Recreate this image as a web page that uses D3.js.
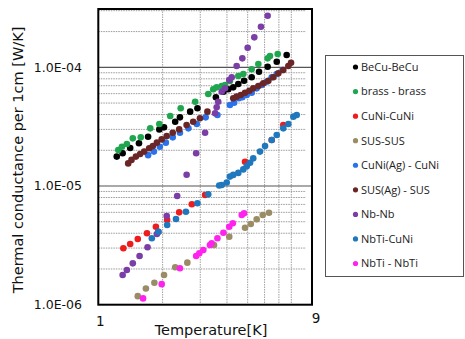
<!DOCTYPE html>
<html>
<head>
<meta charset="utf-8">
<script src="https://cdn.jsdelivr.net/npm/d3@7"></script>
<style>
  html, body { margin: 0; padding: 0; background: #fff; }
  svg { display: block; }
</style>
</head>
<body>
<svg id="chart" width="465" height="339"></svg>
<script>
// ---- data: [Temperature K, conductance W/K] ----
const seriesNames = ["BeCu-BeCu", "brass - brass", "CuNi-CuNi", "SUS-SUS", "CuNi(Ag) - CuNi", "SUS(Ag) - SUS", "Nb-Nb", "NbTi-CuNi", "NbTi - NbTi"];
const seriesColors = ["#000000", "#1fa64f", "#ee1c1c", "#9a8d66", "#2b72ea", "#6a2626", "#7a3ea6", "#1f78be", "#ff22ee"];

const becu = [[1.22,1.77e-5],[1.30,1.89e-5],[1.41,2.09e-5],[1.55,2.29e-5],[1.71,2.60e-5],[1.93,3.00e-5],[2.03,3.12e-5],[2.29,3.48e-5],[2.41,3.79e-5],[2.69,4.23e-5],[2.91,4.52e-5],[3.55,5.59e-5],[3.85,6.23e-5],[4.06,6.53e-5],[4.28,6.78e-5],[4.52,7.24e-5],[4.81,7.71e-5],[5.22,8.24e-5],[5.65,9.18e-5],[6.20,1.01e-4],[6.84,1.115e-4],[7.61,1.27e-4]];
const brass = [[1.24,2.01e-5],[1.29,2.14e-5],[1.36,2.26e-5],[1.45,2.52e-5],[1.58,2.57e-5],[1.75,3.06e-5],[1.93,3.33e-5],[2.17,3.89e-5],[2.43,4.52e-5],[2.84,5.13e-5],[3.27,5.96e-5],[3.45,6.53e-5],[3.58,6.78e-5],[3.78,6.96e-5],[3.92,7.09e-5],[4.13,7.67e-5],[4.52,8.45e-5],[4.77,8.78e-5],[5.22,9.62e-5],[5.61,1.066e-4],[6.20,1.19e-4],[6.36,1.245e-4],[6.91,1.294e-4]];
const cuni = [[1.31,2.99e-6],[1.41,3.25e-6],[1.53,3.58e-6],[1.69,4.00e-6],[1.86,4.54e-6],[2.10,5.17e-6],[2.39,6.00e-6],[2.74,7.01e-6],[3.16,8.40e-6],[4.86,1.60e-5],[6.48,2.44e-5],[7.34,3.27e-5]];
const sus = [[1.53,1.18e-6],[1.67,1.37e-6],[1.83,1.53e-6],[2.03,1.78e-6],[2.29,2.07e-6],[2.61,2.26e-6],[3.48,3.18e-6],[4.10,3.74e-6],[4.86,4.45e-6],[5.17,4.79e-6],[5.51,5.24e-6],[5.88,5.70e-6],[6.29,5.96e-6]];
const cuniAg = [[1.71,1.82e-5],[1.82,1.95e-5],[1.94,2.14e-5],[2.07,2.32e-5],[2.23,2.57e-5],[2.41,2.81e-5],[2.64,3.06e-5],[2.89,3.33e-5],[3.18,3.79e-5],[3.61,3.96e-5],[4.13,4.81e-5],[4.32,5.03e-5],[4.55,5.48e-5],[4.72,5.59e-5],[4.95,5.84e-5],[5.22,6.11e-5],[5.51,6.65e-5],[5.82,7.09e-5],[6.14,7.56e-5],[6.48,8.24e-5],[6.84,8.78e-5],[7.29,9.49e-5]];
const susAg = [[1.38,1.55e-5],[1.43,1.66e-5],[1.50,1.77e-5],[1.57,1.86e-5],[1.64,1.95e-5],[1.73,2.08e-5],[1.80,2.17e-5],[1.88,2.32e-5],[1.98,2.47e-5],[2.09,2.64e-5],[2.23,2.81e-5],[2.39,3.00e-5],[2.59,3.27e-5],[2.78,3.48e-5],[2.99,3.72e-5],[3.24,4.23e-5],[4.28,5.48e-5],[4.44,5.66e-5],[4.64,5.84e-5],[4.86,6.11e-5],[5.09,6.35e-5],[5.31,6.65e-5],[5.61,6.96e-5],[5.92,7.33e-5],[6.25,7.71e-5],[6.59,8.24e-5],[6.96,8.90e-5],[7.34,9.49e-5],[7.75,1.025e-4],[7.98,1.093e-4]];
const nb = [[1.30,1.78e-6],[1.36,1.96e-6],[1.45,2.23e-6],[1.56,2.57e-6],[1.70,3.05e-6],[1.88,3.94e-6],[1.91,4.12e-6],[2.09,5.59e-6],[2.34,8.23e-6],[2.59,1.245e-5],[2.87,1.89e-5],[3.16,2.81e-5],[3.52,4.10e-5],[3.58,4.60e-5],[3.64,5.13e-5],[3.78,6.23e-5],[3.92,6.65e-5],[4.10,7.82e-5],[4.21,8.24e-5],[4.44,1.025e-4],[4.72,1.19e-4],[5.00,1.463e-4],[5.37,1.789e-4],[5.77,2.198e-4],[6.20,2.72e-4]];
const nbtiCuni = [[1.78,3.63e-6],[1.91,4.12e-6],[2.10,4.69e-6],[2.31,5.27e-6],[2.57,6.07e-6],[2.91,7.15e-6],[3.27,8.51e-6],[3.68,1.01e-5],[3.78,1.02e-5],[3.99,1.07e-5],[4.13,1.20e-5],[4.28,1.24e-5],[4.52,1.29e-5],[4.77,1.38e-5],[4.95,1.47e-5],[5.13,1.57e-5],[5.31,1.71e-5],[5.71,1.95e-5],[6.03,2.17e-5],[6.48,2.44e-5],[6.84,2.69e-5],[7.34,3.06e-5],[7.75,3.33e-5],[8.18,3.84e-5],[8.48,3.96e-5]];
const nbtiNbti = [[1.62,1.13e-6],[1.98,1.49e-6],[2.41,2.03e-6],[2.87,2.57e-6],[2.97,2.71e-6],[3.10,2.89e-6],[3.33,3.18e-6],[3.39,3.29e-6],[3.61,3.63e-6],[3.85,4.04e-6],[4.10,4.54e-6],[4.26,4.85e-6],[4.69,5.70e-6],[4.81,5.89e-6]];

const seriesData = [becu, brass, cuni, sus, cuniAg, susAg, nb, nbtiCuni, nbtiNbti];

const xDomain = [1, 10];
const yDomain = [1e-6, 3.1e-4];
const xGridValues = [2, 3, 4, 5, 6, 7, 8];
const xTickValues = [1, 10];
const xTickLabels = ["1", "9"];
const yMajorValues = [1e-6, 1e-5, 1e-4];
const yTickLabels = ["1.0E-06", "1.0E-05", "1.0E-04"];
const yMinorMultipliers = [2, 3, 4, 5, 6, 7, 8, 9];
const xTitle = "Temperature[K]";
const yTitle = "Thermal conductance per 1cm [W/K]";

// ---- drawing ----
const svg = d3.select("#chart");
const plot = { left: 98.3, right: 312, top: 9, bottom: 304.7 };

const x = d3.scaleLog().domain(xDomain).range([plot.left, plot.right]);
const y = d3.scaleLog().domain(yDomain).range([plot.bottom, plot.top]);

const axisFont = "'DejaVu Sans', 'Open Sans', sans-serif";

// minor horizontal grid
const yMinor = [];
yMajorValues.forEach(d => yMinorMultipliers.forEach(m => { const v = d * m; if (v <= yDomain[1]) yMinor.push(v); }));
svg.append("g").selectAll("line").data(yMinor).join("line")
  .attr("x1", plot.left).attr("x2", plot.right - 6)
  .attr("y1", d => y(d)).attr("y2", d => y(d))
  .attr("stroke", "#9a9a9a").attr("stroke-width", 1).attr("stroke-dasharray", "1.5,1");

// vertical grid
svg.append("g").selectAll("line").data(xGridValues).join("line")
  .attr("x1", d => x(d)).attr("x2", d => x(d))
  .attr("y1", plot.top).attr("y2", plot.bottom)
  .attr("stroke", "#a0a0a0").attr("stroke-width", 1).attr("stroke-dasharray", "1.5,1");

// major horizontal grid
svg.append("g").selectAll("line").data(yMajorValues.filter(d => d > yDomain[0])).join("line")
  .attr("x1", plot.left).attr("x2", plot.right)
  .attr("y1", d => y(d)).attr("y2", d => y(d))
  .attr("stroke", "#555").attr("stroke-width", 1.2);

// frame
svg.append("rect")
  .attr("x", plot.left).attr("y", plot.top)
  .attr("width", plot.right - plot.left).attr("height", plot.bottom - plot.top)
  .attr("fill", "none").attr("stroke", "#000").attr("stroke-width", 2);

// y tick labels
svg.append("g").selectAll("text").data(yMajorValues).join("text")
  .attr("x", 82).attr("y", d => y(d)).attr("dy", "0.35em")
  .attr("text-anchor", "end")
  .attr("font-family", axisFont).attr("font-size", 12.5).attr("fill", "#111")
  .text((d, i) => yTickLabels[i]);

// x tick labels
svg.append("g").selectAll("text").data(xTickValues).join("text")
  .attr("x", d => x(d) + (d === 1 ? 2 : 4)).attr("y", (d, i) => i === 0 ? 326 : 323)
  .attr("text-anchor", "middle")
  .attr("font-family", axisFont).attr("font-size", 13.5).attr("fill", "#111")
  .text((d, i) => xTickLabels[i]);

// axis titles
svg.append("text")
  .attr("x", 211).attr("y", 335)
  .attr("text-anchor", "middle")
  .attr("font-family", axisFont).attr("font-size", 14.5).attr("fill", "#111")
  .text(xTitle);

svg.append("text")
  .attr("transform", "translate(23,160) rotate(-90)")
  .attr("text-anchor", "middle")
  .attr("font-family", axisFont).attr("font-size", 14.5).attr("fill", "#111")
  .text(yTitle);

// points
const pts = svg.append("g");
seriesData.forEach((data, si) => {
  pts.append("g").selectAll("circle").data(data).join("circle")
    .attr("cx", d => x(d[0])).attr("cy", d => y(d[1]))
    .attr("r", 3.3)
    .attr("fill", seriesColors[si]);
});

// legend
const legend = svg.append("g");
legend.append("rect")
  .attr("x", 325.5).attr("y", 55.5).attr("width", 138).attr("height", 221)
  .attr("fill", "#fff").attr("stroke", "#555").attr("stroke-width", 1);
const ly = d3.scaleLinear().domain([0, seriesNames.length - 1]).range([67, 263.5]);
const items = legend.selectAll("g.item").data(seriesNames).join("g").attr("class", "item")
  .attr("transform", (d, i) => `translate(0,${ly(i)})`);
items.append("circle").attr("cx", 355.5).attr("cy", 0).attr("r", 2.6)
  .attr("fill", (d, i) => seriesColors[i]);
items.append("text").attr("x", 361).attr("y", 0).attr("dy", "0.35em")
  .attr("font-family", "'Open Sans', 'Liberation Sans', sans-serif").attr("font-size", 11)
  .attr("fill", "#222")
  .text(d => d);
</script>
</body>
</html>
